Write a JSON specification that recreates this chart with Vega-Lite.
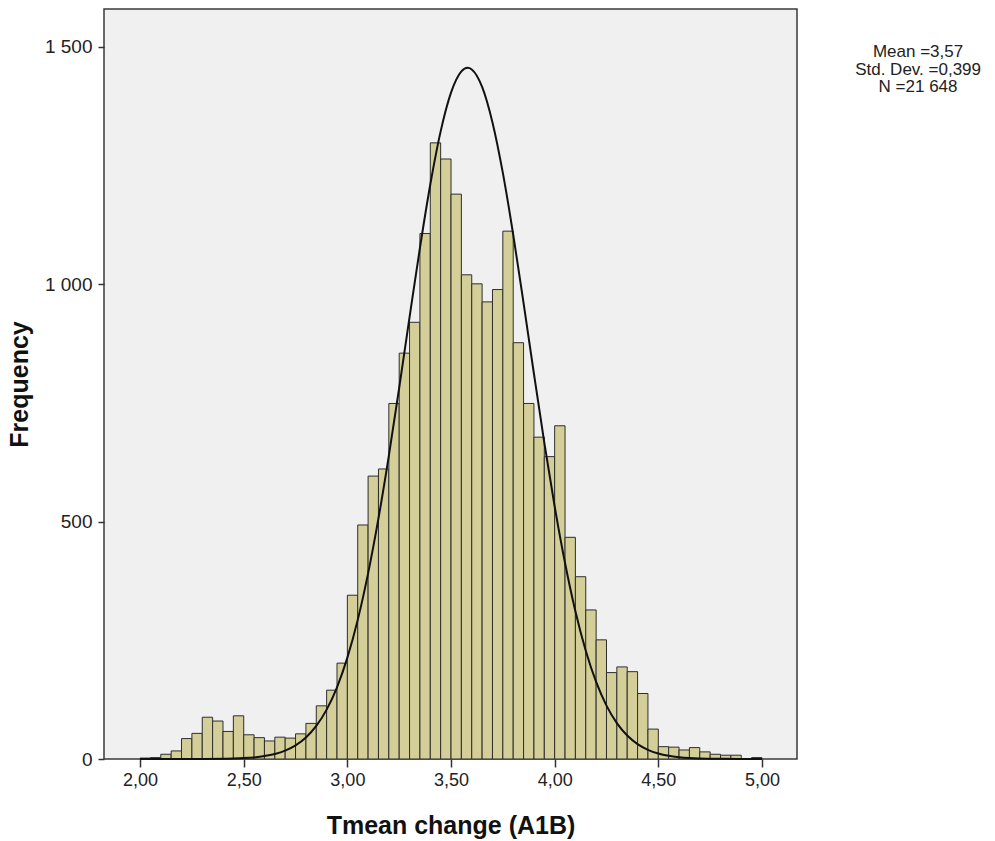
{
  "$schema": "https://vega.github.io/schema/vega-lite/v6.json",
  "width": 693,
  "height": 750,
  "autosize": {"type": "none"},
  "padding": {"left": 104, "top": 9, "right": 198, "bottom": 82},
  "background": "#ffffff",
  "config": {
    "view": {"fill": "#f0f0f0", "stroke": "#3a3a3a", "strokeWidth": 1.5},
    "font": "Liberation Sans"
  },
  "datasets": {
    "bins": [
      {"x0": 2.00, "x1": 2.05, "n": 2}, {"x0": 2.05, "x1": 2.10, "n": 3}, {"x0": 2.10, "x1": 2.15, "n": 10}, {"x0": 2.15, "x1": 2.20, "n": 17}, {"x0": 2.20, "x1": 2.25, "n": 43},
      {"x0": 2.25, "x1": 2.30, "n": 54}, {"x0": 2.30, "x1": 2.35, "n": 88}, {"x0": 2.35, "x1": 2.40, "n": 80}, {"x0": 2.40, "x1": 2.45, "n": 58}, {"x0": 2.45, "x1": 2.50, "n": 91},
      {"x0": 2.50, "x1": 2.55, "n": 51}, {"x0": 2.55, "x1": 2.60, "n": 45}, {"x0": 2.60, "x1": 2.65, "n": 38}, {"x0": 2.65, "x1": 2.70, "n": 46}, {"x0": 2.70, "x1": 2.75, "n": 44},
      {"x0": 2.75, "x1": 2.80, "n": 53}, {"x0": 2.80, "x1": 2.85, "n": 75}, {"x0": 2.85, "x1": 2.90, "n": 112}, {"x0": 2.90, "x1": 2.95, "n": 145}, {"x0": 2.95, "x1": 3.00, "n": 202},
      {"x0": 3.00, "x1": 3.05, "n": 345}, {"x0": 3.05, "x1": 3.10, "n": 493}, {"x0": 3.10, "x1": 3.15, "n": 596}, {"x0": 3.15, "x1": 3.20, "n": 611}, {"x0": 3.20, "x1": 3.25, "n": 749},
      {"x0": 3.25, "x1": 3.30, "n": 855}, {"x0": 3.30, "x1": 3.35, "n": 920}, {"x0": 3.35, "x1": 3.40, "n": 1107}, {"x0": 3.40, "x1": 3.45, "n": 1298}, {"x0": 3.45, "x1": 3.50, "n": 1264},
      {"x0": 3.50, "x1": 3.55, "n": 1190}, {"x0": 3.55, "x1": 3.60, "n": 1020}, {"x0": 3.60, "x1": 3.65, "n": 1001}, {"x0": 3.65, "x1": 3.70, "n": 963}, {"x0": 3.70, "x1": 3.75, "n": 989},
      {"x0": 3.75, "x1": 3.80, "n": 1112}, {"x0": 3.80, "x1": 3.85, "n": 877}, {"x0": 3.85, "x1": 3.90, "n": 749}, {"x0": 3.90, "x1": 3.95, "n": 678}, {"x0": 3.95, "x1": 4.00, "n": 637},
      {"x0": 4.00, "x1": 4.05, "n": 702}, {"x0": 4.05, "x1": 4.10, "n": 467}, {"x0": 4.10, "x1": 4.15, "n": 384}, {"x0": 4.15, "x1": 4.20, "n": 314}, {"x0": 4.20, "x1": 4.25, "n": 251},
      {"x0": 4.25, "x1": 4.30, "n": 182}, {"x0": 4.30, "x1": 4.35, "n": 194}, {"x0": 4.35, "x1": 4.40, "n": 184}, {"x0": 4.40, "x1": 4.45, "n": 138}, {"x0": 4.45, "x1": 4.50, "n": 63},
      {"x0": 4.50, "x1": 4.55, "n": 26}, {"x0": 4.55, "x1": 4.60, "n": 25}, {"x0": 4.60, "x1": 4.65, "n": 19}, {"x0": 4.65, "x1": 4.70, "n": 24}, {"x0": 4.70, "x1": 4.75, "n": 15},
      {"x0": 4.75, "x1": 4.80, "n": 10}, {"x0": 4.80, "x1": 4.85, "n": 8}, {"x0": 4.85, "x1": 4.90, "n": 8}, {"x0": 4.90, "x1": 4.95, "n": 1}, {"x0": 4.95, "x1": 5.00, "n": 3}
    ],
    "curve": [
      {"x": 2.00, "y": 0}, {"x": 2.10, "y": 0}, {"x": 2.20, "y": 0.03}, {"x": 2.30, "y": 0.13}, {"x": 2.40, "y": 0.5},
      {"x": 2.45, "y": 1.0}, {"x": 2.50, "y": 1.9}, {"x": 2.55, "y": 3.4}, {"x": 2.60, "y": 6.1}, {"x": 2.65, "y": 10.5},
      {"x": 2.70, "y": 17.5}, {"x": 2.75, "y": 28.6}, {"x": 2.80, "y": 45.2}, {"x": 2.85, "y": 69.6}, {"x": 2.90, "y": 104.0},
      {"x": 2.95, "y": 151.1}, {"x": 3.00, "y": 213.5}, {"x": 3.05, "y": 293.1}, {"x": 3.10, "y": 391.0}, {"x": 3.15, "y": 506.8},
      {"x": 3.20, "y": 638.6}, {"x": 3.25, "y": 782.0}, {"x": 3.30, "y": 930.8}, {"x": 3.35, "y": 1076.6}, {"x": 3.40, "y": 1210.2},
      {"x": 3.45, "y": 1322.2}, {"x": 3.50, "y": 1403.7}, {"x": 3.55, "y": 1448.5}, {"x": 3.58, "y": 1456}, {"x": 3.60, "y": 1452.7},
      {"x": 3.65, "y": 1415.9}, {"x": 3.70, "y": 1341.1}, {"x": 3.75, "y": 1234.7}, {"x": 3.80, "y": 1104.7}, {"x": 3.85, "y": 960.5},
      {"x": 3.90, "y": 811.6}, {"x": 3.95, "y": 666.7}, {"x": 4.00, "y": 532.0}, {"x": 4.05, "y": 412.8}, {"x": 4.10, "y": 311.2},
      {"x": 4.15, "y": 228.0}, {"x": 4.20, "y": 162.3}, {"x": 4.25, "y": 112.4}, {"x": 4.30, "y": 75.6}, {"x": 4.35, "y": 49.4},
      {"x": 4.40, "y": 31.4}, {"x": 4.45, "y": 19.4}, {"x": 4.50, "y": 11.6}, {"x": 4.55, "y": 6.8}, {"x": 4.60, "y": 3.9},
      {"x": 4.65, "y": 2.1}, {"x": 4.70, "y": 1.1}, {"x": 4.80, "y": 0.3}, {"x": 4.90, "y": 0.07}, {"x": 5.00, "y": 0}
    ],
    "stats": [
      {"x": 5.753, "y": 1489, "t": "Mean =3,57\nStd. Dev. =0,399\nN =21 648"}
    ]
  },
  "layer": [
    {
      "data": {"name": "bins"},
      "mark": {"type": "rect", "fill": "#d4cf98", "stroke": "#2e2e2e", "strokeWidth": 1},
      "encoding": {
        "x": {
          "field": "x0", "type": "quantitative",
          "scale": {"domain": [1.826, 5.169], "nice": false, "zero": false},
          "axis": {
            "values": [2, 2.5, 3, 3.5, 4, 4.5, 5],
            "labelExpr": "replace(format(datum.value, '.2f'), '.', ',')",
            "domain": false, "grid": false,
            "tickColor": "#333333", "tickWidth": 1.5, "tickSize": 8,
            "labelFont": "Liberation Sans", "labelFontSize": 18, "labelColor": "#222222", "labelPadding": 4,
            "title": "Tmean change (A1B)",
            "titleFont": "Liberation Sans", "titleFontSize": 25, "titleFontWeight": "bold", "titleColor": "#111111", "titlePadding": 24
          }
        },
        "x2": {"field": "x1"},
        "y": {
          "field": "n", "type": "quantitative",
          "scale": {"domain": [0, 1580], "nice": false},
          "axis": {
            "values": [0, 500, 1000, 1500],
            "labelExpr": "replace(format(datum.value, ','), ',', ' ')",
            "domain": false, "grid": false,
            "tickColor": "#333333", "tickWidth": 1.5, "tickSize": 6,
            "labelFont": "Liberation Sans", "labelFontSize": 19, "labelColor": "#222222", "labelPadding": 6,
            "title": "Frequency",
            "titleFont": "Liberation Sans", "titleFontSize": 25, "titleFontWeight": "bold", "titleColor": "#111111", "titlePadding": 12
          }
        },
        "y2": {"datum": 0}
      }
    },
    {
      "data": {"name": "curve"},
      "mark": {"type": "line", "color": "#111111", "strokeWidth": 2, "interpolate": "monotone"},
      "encoding": {
        "x": {"field": "x", "type": "quantitative"},
        "y": {"field": "y", "type": "quantitative"}
      }
    },
    {
      "data": {"name": "stats"},
      "mark": {"type": "text", "font": "Liberation Sans", "fontSize": 17, "lineHeight": 17.5, "lineBreak": "\n", "align": "center", "baseline": "middle", "color": "#222222", "clip": false},
      "encoding": {
        "x": {"field": "x", "type": "quantitative"},
        "y": {"field": "y", "type": "quantitative"},
        "text": {"field": "t"}
      }
    }
  ]
}
